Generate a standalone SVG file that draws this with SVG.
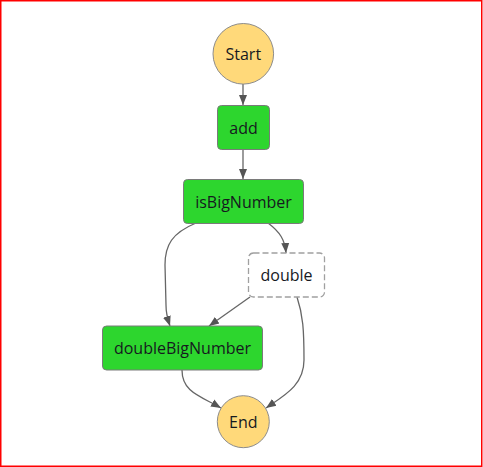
<svg xmlns="http://www.w3.org/2000/svg" width="483" height="467" viewBox="0 0 483 467">
<defs>
<marker id="arr" markerUnits="userSpaceOnUse" markerWidth="10" markerHeight="10" viewBox="0 0 10 10" refX="10" refY="5" orient="auto">
<path d="M0,1 L10,5 L0,9 Z" fill="#555"/>
</marker>
<style>
.term{fill:#ffd97a;stroke:#8c8c8c;stroke-width:1}
.task{fill:#2dd62e;stroke:#7a7a7a;stroke-width:1}
.pass{fill:#ffffff;stroke:#a0a0a0;stroke-width:1.3;stroke-dasharray:6 3}
.lbl{font-family:"Open Sans","Noto Sans",sans-serif;font-size:16px;fill:#16191f;text-anchor:middle;dominant-baseline:central}
.edge{fill:none;stroke:#666;stroke-width:1.3;marker-end:url(#arr)}
</style>
</defs>
<rect x="0.75" y="0.75" width="481" height="465.5" fill="#fff" stroke="#ff0000" stroke-width="1.5"/>
<g id="connectors">
<path class="edge" d="M243,84 L243,105"/>
<path class="edge" d="M243,149 L243,179"/>
<path class="edge" d="M196,223 C172,233 165,245 165,265 L166,305 C166,315 168,320 170,326"/>
<path class="edge" d="M268,223 C280,232 285,240 286,253"/>
<path class="edge" d="M250,297 L209,326"/>
<path class="edge" d="M297,297 C303,315 304,330 304,360 C304,385 285,395 266,408"/>
<path class="edge" d="M182,370 C182,392 200,396 221,408"/>
</g>
<g id="Start"><circle class="term" cx="243.3" cy="53.8" r="30.3"/><text class="lbl" x="243.3" y="54">Start</text></g>
<g id="add"><rect class="task" x="217.5" y="105.5" width="52" height="44" rx="4"/><text class="lbl" x="243.5" y="127.5">add</text></g>
<g id="isBigNumber"><rect class="task" x="183.5" y="179.5" width="120" height="44" rx="4"/><text class="lbl" x="243.5" y="201.5">isBigNumber</text></g>
<g id="double"><rect class="pass" x="248.5" y="253" width="76" height="44" rx="5"/><text class="lbl" x="286.5" y="275">double</text></g>
<g id="doubleBigNumber"><rect class="task" x="102.5" y="326" width="160" height="44" rx="4"/><text class="lbl" x="182.5" y="348">doubleBigNumber</text></g>
<g id="End"><circle class="term" cx="243.3" cy="421.7" r="26"/><text class="lbl" x="243.3" y="422">End</text></g>
</svg>
